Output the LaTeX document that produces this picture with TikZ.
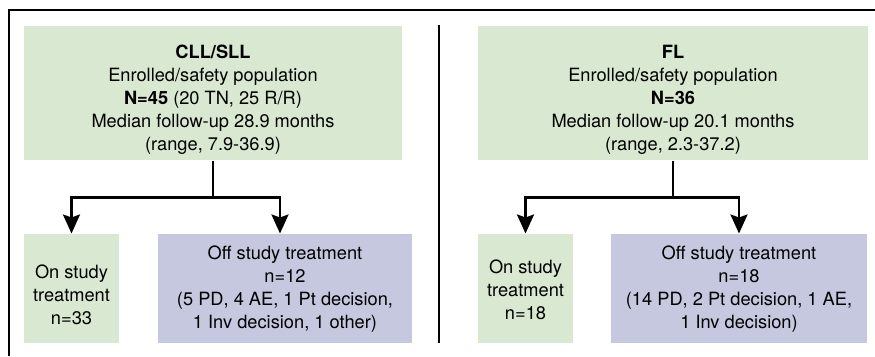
\documentclass[tikz,border=0pt]{standalone}
\usepackage{fontspec}
\setmainfont{TeX Gyre Heros}
\usepackage{xcolor}
\usepackage{tikz}
\usetikzlibrary{arrows.meta}

\definecolor{boxgreen}{RGB}{217,232,208}
\definecolor{boxblue}{RGB}{197,200,222}

\begin{document}
\begin{tikzpicture}[x=0.4pt,y=-0.4pt,
        greenbox/.style={fill=boxgreen, inner sep=0pt},
        bluebox/.style={fill=boxblue, inner sep=0pt},
        boxtext/.style={align=center, inner sep=0pt,
            font=\fontsize{7.3}{9.2}\selectfont},
        flow/.style={line width=1pt,
            -{Stealth[length=7.6pt, width=6.8pt, inset=1.2pt]}}]
        \useasboundingbox (0,0) rectangle (875,356);

        % The frame and the divider
        \draw[line width=1.1pt] (9,356) -- (9,10) -- (875,10);
        \draw[line width=1.1pt] (439,25) -- (439,343);

        % The top boxes
        \node[greenbox, minimum width=151.2pt, minimum height=53.6pt] (cllbox) at (213,93) {};
        \node[greenbox, minimum width=156pt, minimum height=53.6pt] (flbox) at (673,93) {};

        % The lower boxes
        \node[greenbox, minimum width=38pt, minimum height=43.6pt] (oncll) at (71.5,288.5) {};
        \node[bluebox, minimum width=101.6pt, minimum height=43.6pt] (offcll) at (285,288.5) {};
        \node[greenbox, minimum width=38pt, minimum height=43.6pt] (onfl) at (525.5,288.5) {};
        \node[bluebox, minimum width=102.4pt, minimum height=43.6pt] (offfl) at (739,288.5) {};

        % The words in the boxes
        \node[boxtext] (clltext) at (213,100) {\textbf{CLL/SLL}\\
            Enrolled/safety population\\
            \textbf{N=45} (20 TN, 25 R/R)\\
            Median follow-up 28.9 months\\
            (range, 7.9-36.9)};
        \node[boxtext] (fltext) at (673,100) {\textbf{FL}\\
            Enrolled/safety population\\
            \textbf{N=36}\\
            Median follow-up 20.1 months\\
            (range, 2.3-37.2)};

        \node[boxtext] (oncllt) at (71.5,295) {On study\\ treatment\\ n=33};
        \node[boxtext] (offcllt) at (285,289) {Off study treatment\\ n=12\\
            (5 PD, 4 AE, 1 Pt decision,\\ 1 Inv decision, 1 other)};
        \node[boxtext] (onflt) at (525.5,290) {On study\\ treatment\\ n=18};
        \node[boxtext] (offflt) at (739,289) {Off study treatment\\ n=18\\
            (14 PD, 2 Pt decision, 1 AE,\\ 1 Inv decision)};

        % The arrows
        \draw[flow] (cllbox.south) -- ++(0,37) -| (oncll.north);
        \draw[flow] (cllbox.south) -- ++(0,37) -| ([xshift=-2pt]offcll.north);
        \draw[flow] (flbox.south) -- ++(0,37) -| (onfl.north);
        \draw[flow] (flbox.south) -- ++(0,37) -| (offfl.north);
\end{tikzpicture}
\end{document}
